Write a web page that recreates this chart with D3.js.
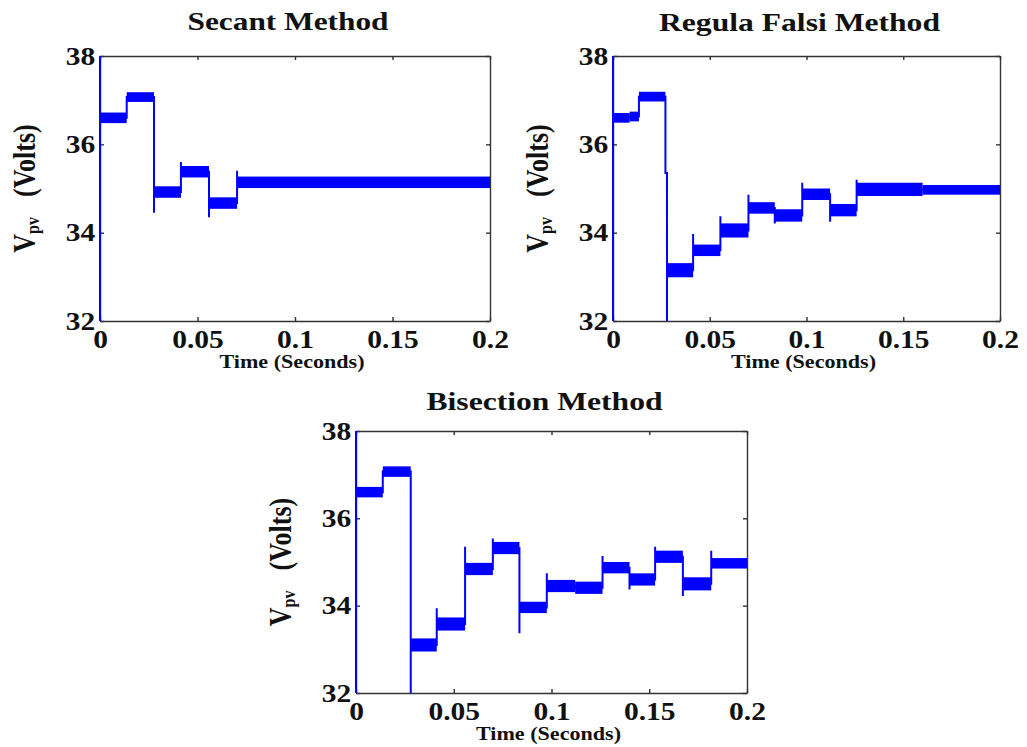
<!DOCTYPE html>
<html>
<head>
<meta charset="utf-8">
<script src="https://cdn.jsdelivr.net/npm/d3@7"></script>
<style>
  body { margin: 0; background: #fff; }
  svg text { font-family: "Liberation Serif", "Times New Roman", Times, serif !important; font-weight: bold; fill: #111; }
  .tick text { transform-box: fill-box; transform-origin: center; transform: scaleX(1.18); }
</style>
</head>
<body>
<div id="chart"></div>
<script>
// axis ticks (shared by the three panels)
const xTicks = [0, 0.05, 0.1, 0.15, 0.2];
const yTicks = [32, 34, 36, 38];
const startVolt = 32;

// Secant method: step start time, band centre, band half-width, overshoot at the step
const secantStart = [0, 0.0137, 0.0277, 0.0415, 0.0559, 0.0703];
const secantLevel = [36.6, 37.07, 34.92, 35.38, 34.67, 35.14];
const secantHalf  = [0.12, 0.11, 0.13, 0.13, 0.13, 0.13];
const secantSpike = [38, null, 34.45, 35.6, 34.35, 35.4];

// Regula Falsi method
const regulaStart = [0, 0.0086, 0.0134, 0.0271, 0.0279, 0.0414, 0.0555, 0.07, 0.0836, 0.0978, 0.1122, 0.1259, 0.16];
const regulaLevel = [36.6, 36.63, 37.08, 35.35, 33.15, 33.6, 34.05, 34.56, 34.39, 34.87, 34.51, 34.98, 34.97];
const regulaHalf  = [0.11, 0.11, 0.11, 0, 0.16, 0.13, 0.16, 0.13, 0.14, 0.13, 0.14, 0.15, 0.11];
const regulaSpike = [38, null, null, null, 31.5, 33.97, 34.37, 34.86, 34.21, 35.13, 34.25, 35.2, null];

// Bisection method
const bisectStart = [0, 0.0137, 0.028, 0.0413, 0.0558, 0.07, 0.0836, 0.0976, 0.1121, 0.1261, 0.1399, 0.153, 0.1672, 0.1817];
const bisectLevel = [36.6, 37.07, 33.1, 33.58, 34.84, 35.32, 33.96, 34.45, 34.41, 34.87, 34.6, 35.12, 34.5, 34.97];
const bisectHalf  = [0.12, 0.12, 0.15, 0.15, 0.14, 0.14, 0.13, 0.14, 0.14, 0.13, 0.14, 0.14, 0.15, 0.12];
const bisectSpike = [38, null, 31.5, 33.94, 35.35, 35.54, 33.37, 34.74, null, 35.14, 34.37, 35.35, 34.22, 35.26];

const panels = [
  { title: "Secant Method", titleW: 201, titleY: 30, left: 100, top: 56, w: 390, h: 265,
    start: secantStart, level: secantLevel, half: secantHalf, spike: secantSpike },
  { title: "Regula Falsi Method", titleW: 281, titleY: 31, left: 613, top: 56, w: 387, h: 265,
    start: regulaStart, level: regulaLevel, half: regulaHalf, spike: regulaSpike },
  { title: "Bisection Method", titleW: 236, titleY: 410, left: 356, top: 431, w: 391, h: 262,
    start: bisectStart, level: bisectLevel, half: bisectHalf, spike: bisectSpike }
];

const font = "Liberation Serif";

const svg = d3.select("#chart").append("svg")
  .attr("width", 1027)
  .attr("height", 747)
  .attr("font-family", font);

const blue = "#0000ff";
const axisColor = "#333";

panels.forEach((p, k) => {
  const x = d3.scaleLinear().domain([0, 0.2]).range([0, p.w]);
  const y = d3.scaleLinear().domain([32, 38]).range([p.h, 0]);
  const tEnd = x.domain()[1];

  const g = svg.append("g").attr("transform", `translate(${p.left},${p.top})`);

  const clipId = "clip" + k;
  svg.append("clipPath").attr("id", clipId)
    .append("rect")
    .attr("x", p.left - 2).attr("y", p.top)
    .attr("width", p.w + 3).attr("height", p.h);

  const plot = svg.append("g")
    .attr("clip-path", `url(#${clipId})`)
    .append("g")
    .attr("transform", `translate(${p.left},${p.top})`);

  const steps = p.start.map((t, i) => ({
    t0: t,
    t1: i < p.start.length - 1 ? p.start[i + 1] : tEnd,
    level: p.level[i],
    half: p.half[i],
    spike: p.spike[i]
  }));

  // oscillation bands
  plot.selectAll("rect.band")
    .data(steps.filter(s => s.half > 0))
    .join("rect")
    .attr("class", "band")
    .attr("x", s => x(s.t0))
    .attr("width", s => x(s.t1) - x(s.t0))
    .attr("y", s => y(s.level + s.half))
    .attr("height", s => y(s.level - s.half) - y(s.level + s.half))
    .attr("fill", blue);

  // step trace with overshoots
  const pts = [[0, startVolt]];
  steps.forEach((s, i) => {
    if (i > 0) pts.push([s.t0, steps[i - 1].level]);
    if (s.spike != null) pts.push([s.t0, s.spike]);
    pts.push([s.t0, s.level]);
  });
  pts.push([tEnd, steps[steps.length - 1].level]);

  plot.append("path")
    .datum(pts)
    .attr("fill", "none")
    .attr("stroke", blue)
    .attr("stroke-width", 2)
    .attr("d", d3.line().x(d => x(d[0])).y(d => y(d[1])));

  // box axes, ticks pointing inwards
  const fmt = d3.format("~g");
  const styleAxis = sel => {
    sel.select(".domain").attr("stroke", axisColor).attr("stroke-width", 1.4);
    sel.selectAll(".tick line").attr("stroke", axisColor).attr("stroke-width", 1.4);
    sel.attr("font-size", 25).attr("font-family", font);
  };

  g.append("g")
    .attr("transform", `translate(0,${p.h})`)
    .call(d3.axisBottom(x).tickValues(xTicks).tickSizeInner(-4).tickSizeOuter(0).tickPadding(9).tickFormat(fmt))
    .call(styleAxis);

  g.append("g")
    .call(d3.axisTop(x).tickValues(xTicks).tickSizeInner(-4).tickSizeOuter(0).tickFormat(""))
    .call(styleAxis);

  g.append("g")
    .call(d3.axisLeft(y).tickValues(yTicks).tickSizeInner(-4).tickSizeOuter(0).tickPadding(7).tickFormat(fmt))
    .call(styleAxis);

  g.append("g")
    .attr("transform", `translate(${p.w},0)`)
    .call(d3.axisRight(y).tickValues(yTicks).tickSizeInner(-4).tickSizeOuter(0).tickFormat(""))
    .call(styleAxis);

  // title
  g.append("text")
    .attr("x", p.w / 2 - 7)
    .attr("y", p.titleY - p.top)
    .attr("text-anchor", "middle")
    .attr("font-size", 26)
    .attr("textLength", p.titleW)
    .attr("lengthAdjust", "spacingAndGlyphs")
    .text(p.title);

  // x label
  g.append("text")
    .attr("x", p.w / 2 - 3)
    .attr("y", p.h + 47)
    .attr("text-anchor", "middle")
    .attr("font-size", 18)
    .attr("textLength", 145)
    .attr("lengthAdjust", "spacingAndGlyphs")
    .text("Time (Seconds)");

  // y label
  const yl = g.append("text")
    .attr("transform", `translate(-65,${p.h / 2}) rotate(-90) scale(1,1.2)`)
    .attr("text-anchor", "middle")
    .attr("font-size", 26);
  yl.append("tspan").text("V");
  yl.append("tspan").attr("font-size", 16).attr("dy", 3).text("pv");
  yl.append("tspan").attr("dx", 20).attr("dy", -3).text("(Volts)");
});
</script>
</body>
</html>
